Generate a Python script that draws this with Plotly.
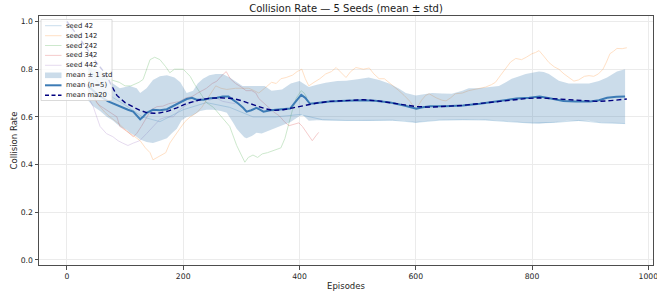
import plotly.graph_objects as go

# ---------------- data ----------------
seed42_ep = [0, 20, 40, 60, 80, 100, 130, 160, 200, 240, 280, 320, 360, 400, 440, 480, 520, 560, 600,
             640, 680, 720, 760, 800, 840, 880, 920, 960]
seed42_val = [1.0, 0.9, 0.80, 0.72, 0.68, 0.65, 0.60, 0.58, 0.63, 0.66, 0.64, 0.60, 0.60, 0.61, 0.588,
              0.585, 0.584, 0.586, 0.577, 0.586, 0.588, 0.587, 0.58, 0.574, 0.577, 0.585, 0.575, 0.572]

seed142_ep = [0, 15, 30, 45, 51, 65, 74, 90, 103, 115, 126, 135, 143, 148, 155, 162, 170, 177, 185, 194,
              203, 212, 223, 232, 240, 248, 256, 265, 275, 290, 300, 313, 322, 330, 340, 352, 360, 368,
              377, 388, 396, 404, 410, 416, 425, 435, 445, 455, 463, 472, 480, 488, 497, 510, 520, 528,
              537, 546, 554, 562, 571, 580, 590, 600, 610, 617, 623, 635, 645, 652, 660, 668, 680, 691,
              700, 708, 720, 730, 737, 746, 755, 763, 772, 782, 790, 800, 806, 812, 820, 829, 838, 846,
              855, 863, 872, 880, 890, 898, 906, 914, 922, 928, 934, 940, 946, 955, 963]
seed142_val = [0.92, 0.85, 0.78, 0.70, 0.66, 0.62, 0.60, 0.57, 0.54, 0.52, 0.50, 0.47, 0.45, 0.42, 0.43,
               0.44, 0.45, 0.49, 0.52, 0.55, 0.58, 0.60, 0.617, 0.64, 0.67, 0.70, 0.73, 0.72, 0.715, 0.72,
               0.72, 0.72, 0.71, 0.70, 0.72, 0.745, 0.74, 0.76, 0.765, 0.775, 0.79, 0.80, 0.76, 0.73, 0.745,
               0.76, 0.78, 0.79, 0.807, 0.785, 0.765, 0.79, 0.807, 0.80, 0.805, 0.78, 0.76, 0.76, 0.745,
               0.73, 0.71, 0.69, 0.665, 0.63, 0.67, 0.69, 0.697, 0.68, 0.67, 0.667, 0.68, 0.697, 0.70, 0.71,
               0.715, 0.72, 0.725, 0.735, 0.745, 0.775, 0.807, 0.83, 0.845, 0.84, 0.85, 0.865, 0.87, 0.878,
               0.855, 0.828, 0.81, 0.80, 0.78, 0.765, 0.75, 0.755, 0.77, 0.773, 0.77, 0.78, 0.80, 0.83,
               0.865, 0.875, 0.887, 0.886, 0.89]

seed242_ep = [0, 15, 30, 45, 57, 74, 90, 100, 110, 124, 131, 137, 143, 151, 160, 170, 177, 185, 194, 200,
              206, 212, 220, 229, 240, 252, 262, 272, 280, 286, 292, 300, 306, 312, 320, 328, 336, 345,
              355, 362, 368, 375, 382, 388, 394, 403, 408, 413]
seed242_val = [0.95, 0.88, 0.82, 0.78, 0.76, 0.757, 0.745, 0.73, 0.73, 0.745, 0.757, 0.80, 0.84, 0.85,
               0.84, 0.81, 0.785, 0.80, 0.80, 0.80, 0.785, 0.77, 0.735, 0.70, 0.66, 0.64, 0.61, 0.58, 0.56,
               0.52, 0.48, 0.44, 0.41, 0.43, 0.44, 0.43, 0.445, 0.45, 0.46, 0.465, 0.47, 0.51, 0.58, 0.63,
               0.677, 0.71, 0.70, 0.68]

seed342_ep = [0, 20, 40, 55, 74, 86, 91, 103, 114, 120, 128, 137, 145, 155, 165, 175, 185, 194, 205, 215,
              225, 240, 250, 258, 265, 274, 281, 290, 300, 308, 318, 325, 330, 338, 348, 356, 365, 374,
              382, 390, 399, 405, 411, 417, 422, 428, 433]
seed342_val = [0.90, 0.80, 0.70, 0.65, 0.617, 0.60, 0.56, 0.54, 0.517, 0.53, 0.56, 0.60, 0.63, 0.643, 0.645,
               0.655, 0.66, 0.665, 0.68, 0.685, 0.70, 0.72, 0.74, 0.75, 0.77, 0.79, 0.76, 0.74, 0.725, 0.71,
               0.71, 0.70, 0.677, 0.66, 0.635, 0.62, 0.605, 0.58, 0.563, 0.57, 0.575, 0.56, 0.54, 0.515,
               0.50, 0.52, 0.535]

seed442_ep = [0, 20, 35, 45, 57, 68, 79, 88, 96, 105, 114, 125, 137, 148, 160, 172, 183, 194, 203, 212,
              223, 234, 245, 256, 268, 280, 290]
seed442_val = [0.85, 0.75, 0.69, 0.645, 0.56, 0.53, 0.517, 0.50, 0.49, 0.48, 0.49, 0.50, 0.53, 0.56, 0.59,
               0.60, 0.60, 0.63, 0.645, 0.66, 0.665, 0.68, 0.67, 0.68, 0.665, 0.66, 0.655]

mean_ep = [36, 55, 71, 91, 105, 114, 121, 126, 131, 137, 148, 160, 172, 182, 189, 198, 206, 215, 223, 235,
           246, 258, 268, 278, 286, 295, 303, 309, 317, 326, 332, 338, 350, 361, 372, 384, 392, 403, 410,
           418, 430, 452, 480, 510, 530, 556, 580, 601, 612, 625, 650, 681, 710, 739, 760, 773, 795, 813,
           830, 854, 875, 900, 915, 929, 945, 960]
mean_val = [0.73, 0.69, 0.665, 0.643, 0.63, 0.622, 0.605, 0.59, 0.60, 0.617, 0.63, 0.628, 0.632, 0.645,
            0.655, 0.668, 0.675, 0.68, 0.672, 0.672, 0.678, 0.68, 0.685, 0.685, 0.672, 0.655, 0.638, 0.622,
            0.628, 0.638, 0.63, 0.622, 0.628, 0.63, 0.632, 0.635, 0.66, 0.692, 0.68, 0.655, 0.658, 0.665,
            0.668, 0.67, 0.668, 0.66, 0.648, 0.634, 0.64, 0.645, 0.645, 0.648, 0.655, 0.665, 0.675, 0.677,
            0.68, 0.685, 0.678, 0.667, 0.665, 0.665, 0.67, 0.68, 0.684, 0.686]

upper_ep = [36, 60, 79, 91, 108, 120, 126, 137, 148, 160, 172, 185, 195, 206, 217, 225, 234, 245, 256, 268,
            280, 290, 302, 313, 325, 340, 352, 370, 385, 400, 410, 416, 430, 445, 465, 480, 500, 519, 537,
            554, 570, 583, 600, 615, 628, 645, 662, 680, 691, 708, 725, 743, 755, 765, 778, 789, 800, 812,
            820, 829, 846, 863, 880, 898, 915, 929, 946, 960]
upper_val = [0.81, 0.79, 0.74, 0.72, 0.73, 0.72, 0.70, 0.72, 0.755, 0.77, 0.775, 0.765, 0.745, 0.70, 0.71,
             0.74, 0.76, 0.775, 0.78, 0.78, 0.765, 0.75, 0.73, 0.73, 0.73, 0.73, 0.71, 0.715, 0.74, 0.75,
             0.735, 0.725, 0.735, 0.743, 0.75, 0.752, 0.758, 0.765, 0.755, 0.74, 0.72, 0.70, 0.69, 0.695,
             0.70, 0.698, 0.697, 0.71, 0.72, 0.72, 0.725, 0.73, 0.745, 0.76, 0.77, 0.78, 0.785, 0.79, 0.788,
             0.78, 0.752, 0.74, 0.74, 0.74, 0.75, 0.765, 0.79, 0.80]

lower_ep = [36, 45, 57, 69, 79, 91, 103, 108, 118, 126, 137, 148, 160, 172, 180, 189, 197, 206, 215, 229,
            240, 252, 265, 275, 280, 286, 292, 298, 305, 309, 318, 326, 335, 344, 355, 366, 376, 384, 395,
            405, 416, 430, 445, 480, 519, 554, 580, 600, 615, 640, 680, 708, 740, 765, 790, 812, 840, 860,
            880, 898, 917, 940, 960]
lower_val = [0.67, 0.645, 0.625, 0.60, 0.585, 0.56, 0.545, 0.533, 0.52, 0.505, 0.495, 0.49, 0.50, 0.51,
             0.53, 0.55, 0.585, 0.60, 0.605, 0.625, 0.63, 0.63, 0.625, 0.617, 0.60, 0.575, 0.55, 0.533,
             0.515, 0.51, 0.52, 0.533, 0.53, 0.54, 0.55, 0.56, 0.57, 0.578, 0.595, 0.61, 0.584, 0.586,
             0.588, 0.585, 0.584, 0.586, 0.584, 0.576, 0.582, 0.587, 0.588, 0.588, 0.585, 0.58, 0.575,
             0.572, 0.578, 0.584, 0.585, 0.584, 0.576, 0.573, 0.572]

ma20_ep = [0, 10, 20, 36, 50, 60, 69, 78, 86, 100, 114, 125, 137, 150, 160, 175, 189, 205, 229, 245, 263,
           286, 300, 320, 340, 355, 372, 389, 412, 430, 452, 480, 510, 535, 556, 580, 601, 625, 647, 680,
           710, 740, 767, 790, 813, 835, 854, 880, 911, 935, 963]
ma20_val = [1.0, 0.97, 0.935, 0.88, 0.83, 0.80, 0.77, 0.725, 0.69, 0.66, 0.643, 0.628, 0.618, 0.615, 0.617,
            0.625, 0.638, 0.655, 0.672, 0.678, 0.68, 0.677, 0.668, 0.65, 0.635, 0.627, 0.63, 0.638, 0.65,
            0.658, 0.665, 0.669, 0.672, 0.667, 0.66, 0.65, 0.643, 0.641, 0.643, 0.648, 0.656, 0.665, 0.672,
            0.677, 0.68, 0.677, 0.672, 0.668, 0.665, 0.668, 0.675]

seed_names = ["seed 42", "seed 142", "seed 242", "seed 342", "seed 442"]
seed_colors = ["#1f77b4", "#ff7f0e", "#2ca02c", "#d62728", "#9467bd"]
x_ticks = [0, 200, 400, 600, 800, 1000]
y_ticks = [0.0, 0.2, 0.4, 0.6, 0.8, 1.0]

# ---------------- figure ----------------
W, H = 657, 297
ML, MR, MT, MB = 39, 4, 16, 32
PW, PH = W - ML - MR, H - MT - MB
FONT = "DejaVu Sans"
SEED_OP = 0.26

fig = go.Figure()

seeds = [(seed42_ep, seed42_val), (seed142_ep, seed142_val), (seed242_ep, seed242_val),
         (seed342_ep, seed342_val), (seed442_ep, seed442_val)]
for (ep, val), name, col in zip(seeds, seed_names, seed_colors):
    fig.add_trace(go.Scatter(x=ep, y=val, mode="lines", name=name,
                             line=dict(color=col, width=0.9), opacity=SEED_OP,
                             showlegend=False, hoverinfo="skip"))

fig.add_trace(go.Scatter(x=upper_ep + lower_ep[::-1], y=upper_val + lower_val[::-1],
                         mode="lines", fill="toself", fillcolor="rgba(70,130,180,0.28)",
                         line=dict(width=0), name="mean ± 1 std", showlegend=False,
                         hoverinfo="skip"))
fig.add_trace(go.Scatter(x=mean_ep, y=mean_val, mode="lines", name="mean (n=5)",
                         line=dict(color="#3c7bb5", width=2.0), showlegend=False))
fig.add_trace(go.Scatter(x=ma20_ep, y=ma20_val, mode="lines", name="mean ma20",
                         line=dict(color="#000080", width=1.4, dash="5px,3px"), showlegend=False))

axis_common = dict(showline=True, linecolor="#4d4d4d", linewidth=1, mirror=True,
                   ticks="outside", ticklen=3.5, tickwidth=0.8, tickcolor="#4d4d4d",
                   showgrid=True, gridcolor="#ebebeb", gridwidth=0.8, zeroline=False,
                   automargin=False, ticklabeloverflow="allow",
                   tickfont=dict(family=FONT, size=7.7, color="#262626"))

fig.update_xaxes(range=[-48, 1008], tickvals=x_ticks, ticktext=[str(t) for t in x_ticks],
                 title=dict(text="Episodes", font=dict(family=FONT, size=8.5, color="#262626"),
                            standoff=3), **axis_common)
fig.update_yaxes(range=[-0.021, 1.023], tickvals=y_ticks, ticktext=[f"{t:.1f}" for t in y_ticks],
                 title=dict(text="Collision Rate", font=dict(family=FONT, size=8.5, color="#262626"),
                            standoff=1), **axis_common)

# ---------------- custom legend (matplotlib-like compact box) ----------------
def px_to_paper(px, py):
    return (px - ML) / PW, 1 - (py - MT) / PH

shapes = []
annotations = []
bx0, by0 = px_to_paper(41, 19.5)
bx1, by1 = px_to_paper(112, 100.5)
shapes.append(dict(type="rect", xref="paper", yref="paper", x0=bx0, x1=bx1, y0=by1, y1=by0,
                   fillcolor="rgba(255,255,255,0.8)", line=dict(color="#d0d0d0", width=0.8),
                   layer="above"))
row_y = [25.7, 35.7, 45.5, 55.4, 65.3, 75.3, 85.3, 95.2]
labels = seed_names + ["mean ± 1 std", "mean (n=5)", "mean ma20"]
for i, (lab, ry) in enumerate(zip(labels, row_y)):
    sx0, sy = px_to_paper(45, ry)
    sx1, _ = px_to_paper(61.5, ry)
    if i < 5:
        shapes.append(dict(type="line", xref="paper", yref="paper", x0=sx0, x1=sx1, y0=sy, y1=sy,
                           line=dict(color=seed_colors[i], width=0.9), opacity=SEED_OP, layer="above"))
    elif i == 5:
        _, ya = px_to_paper(0, ry - 2.8)
        _, yb = px_to_paper(0, ry + 2.8)
        shapes.append(dict(type="rect", xref="paper", yref="paper", x0=sx0, x1=sx1, y0=yb, y1=ya,
                           fillcolor="rgba(70,130,180,0.28)", line=dict(width=0), layer="above"))
    elif i == 6:
        shapes.append(dict(type="line", xref="paper", yref="paper", x0=sx0, x1=sx1, y0=sy, y1=sy,
                           line=dict(color="#3c7bb5", width=2.0), layer="above"))
    else:
        shapes.append(dict(type="line", xref="paper", yref="paper", x0=sx0, x1=sx1, y0=sy, y1=sy,
                           line=dict(color="#000080", width=1.4, dash="4px,2.5px"), layer="above"))
    tx, ty = px_to_paper(64, ry)
    annotations.append(dict(xref="paper", yref="paper", x=tx, y=ty, text=lab, showarrow=False,
                            xanchor="left", yanchor="middle",
                            font=dict(family=FONT, size=6.8, color="#1a1a1a")))

fig.update_layout(
    width=W, height=H, autosize=False,
    margin=dict(l=ML, r=MR, t=MT, b=MB, autoexpand=False),
    paper_bgcolor="white", plot_bgcolor="white",
    showlegend=False,
    title=dict(text="Collision Rate — 5 Seeds (mean ± std)", x=0.5, xref="paper",
               y=1 - 8 / H, yref="container", xanchor="center", yanchor="middle",
               font=dict(family=FONT, size=10, color="#1a1a1a")),
    shapes=shapes, annotations=annotations,
)

fig.write_html("out.html", config={"displayModeBar": False},
               post_script="document.body.style.margin='0';document.body.style.padding='0';"
                           "document.body.style.overflow='hidden';")
